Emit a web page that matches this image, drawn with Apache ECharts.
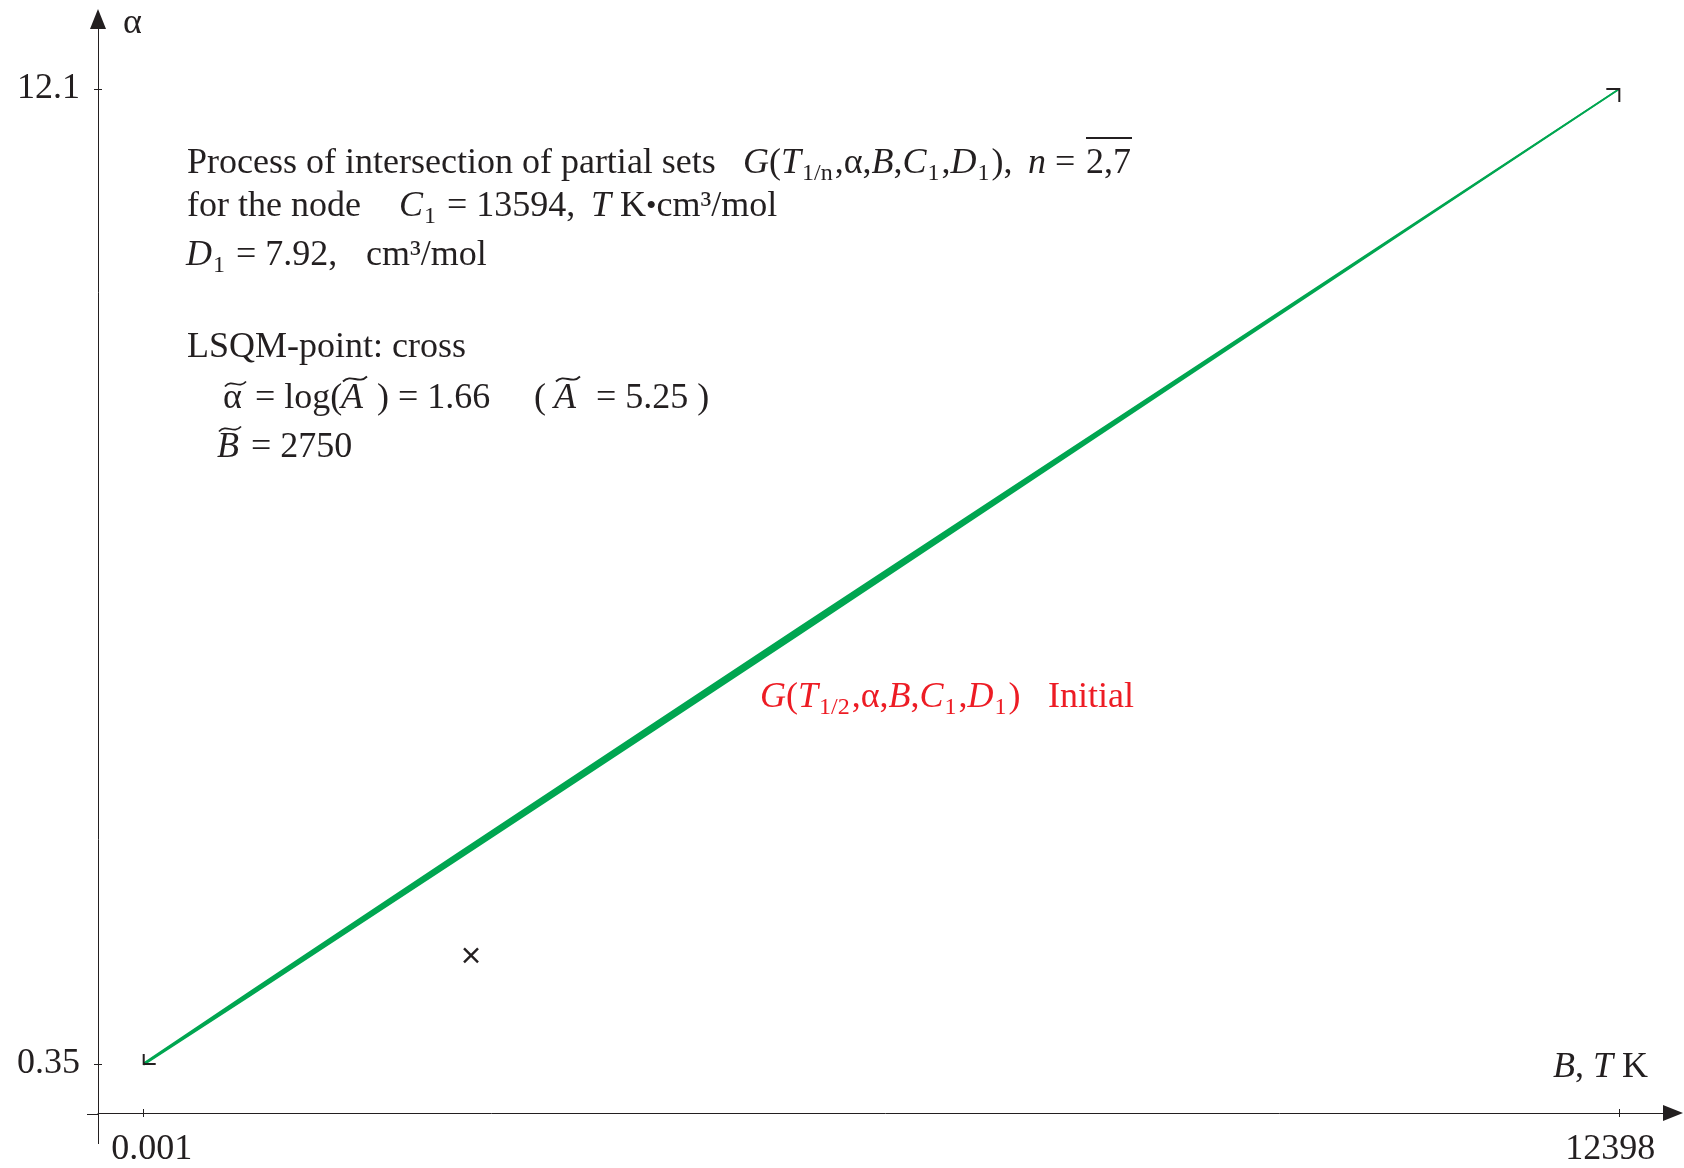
<!DOCTYPE html>
<html>
<head>
<meta charset="utf-8">
<title>Process of intersection of partial sets</title>
<script src="https://cdn.jsdelivr.net/npm/echarts@6/dist/echarts.min.js"></script>
<style>
  html, body { margin: 0; padding: 0; background: #ffffff; }
  #chart { width: 1684px; height: 1168px; }
</style>
</head>
<body>
<div id="chart"></div>
<script>
// ---- data -------------------------------------------------------------
// tick marks and their labels
const xTickValues = [0.001, 12398];
const xTickLabels = ['0.001', '12398'];
const yTickValues = [0.35, 12.1];
const yTickLabels = ['0.35', '12.1'];

// G(T1/n, alpha, B, C1, D1) family, n = 2..7: end points of the set
const lineB = [0.001, 12398];
const lineAlpha = [0.35, 12.1];

// spread of the overlapping curves along B (lower / upper alpha edge)
const bandB    = [0.001, 900,   2600,  4300,  5500,  7200,  8900,  10600,  12398];
const bandLow  = [0.329, 1.167, 2.766, 4.371, 5.508, 7.129, 8.752, 10.375, 12.088];
const bandHigh = [0.371, 1.239, 2.862, 4.479, 5.616, 7.219, 8.818, 10.417, 12.112];

// least-squares point (cross)
const lsqmB = 2750;
const lsqmAlpha = 1.66;

// ---- styles -----------------------------------------------------------
const SERIF = "'Liberation Serif', 'Times New Roman', serif";
const INK = '#231f20';
const GREEN = '#00a651';
const RED = '#ed1c24';
const FS = 36;

const rich = {
  i: { fontStyle: 'italic', fontSize: FS, fontFamily: SERIF, lineHeight: 44 },
  s: { fontSize: 24, fontFamily: SERIF, lineHeight: 18, verticalAlign: 'bottom', padding: [0, 2, 0, 1] },
  d: { fontSize: 30, fontFamily: SERIF, lineHeight: 44 }
};

function txt(x, y, text, color) {
  return {
    type: 'text', x: x, y: y, silent: true,
    style: {
      text: text, fill: color || INK, fontSize: FS, fontFamily: SERIF,
      lineHeight: 44, align: 'left', verticalAlign: 'middle', rich: rich
    }
  };
}
function tilde(x, y, w) {
  return {
    type: 'bezierCurve', silent: true,
    shape: { x1: x, y1: y + 2.5, cpx1: x + w * 0.35, cpy1: y - 6, cpx2: x + w * 0.65, cpy2: y + 6, x2: x + w, y2: y - 2.5 },
    style: { stroke: INK, lineWidth: 1.8, fill: null }
  };
}
function seg(x1, y1, x2, y2, lw) {
  return {
    type: 'line', silent: true,
    shape: { x1: x1, y1: y1, x2: x2, y2: y2 },
    style: { stroke: INK, lineWidth: lw || 1 }
  };
}

const graphics = [
  // axis names
  txt(123, 24, 'α'),
  txt(1553, 1068, '{i|B}, {i|T} K'),
  // axis overhang past the crossing
  seg(98.5, 1114, 98.5, 1144),
  seg(87, 1114.5, 98.5, 1114.5),

  // description block
  txt(187, 164, 'Process of intersection of partial sets'),
  txt(743, 164, '{i|G}({i|T}{s|1/n},α,{i|B},{i|C}{s|1},{i|D}{s|1}),'),
  txt(1028, 164, '{i|n} = '),
  txt(1086, 164, '2,7'),
  seg(1086, 138, 1132, 138, 2),
  txt(187, 207, 'for the node'),
  txt(399, 207, '{i|C}{s|1} = 13594,'),
  txt(591, 207, '{i|T} K{d|•}cm³/mol'),
  txt(186, 256, '{i|D}{s|1} = 7.92,'),
  txt(366, 256, 'cm³/mol'),

  txt(187, 348, 'LSQM-point: cross'),
  txt(223, 399, 'α'), tilde(225, 384, 21),
  txt(255, 399, '= log('),
  txt(341, 399, '{i|A}'), tilde(343, 379, 24),
  txt(377, 399, ') = 1.66'),
  txt(534, 399, '('),
  txt(554, 399, '{i|A}'), tilde(556, 379, 24),
  txt(596, 399, '= 5.25 )'),
  txt(217, 448, '{i|B}'), tilde(219, 429, 22),
  txt(251, 448, '= 2750'),

  // curve label
  txt(760, 697.5, '{i|G}({i|T}{s|1/2},α,{i|B},{i|C}{s|1},{i|D}{s|1})', RED),
  txt(1048, 697.5, 'Initial', RED)
];

// ---- axes -------------------------------------------------------------
const axisLineStyle = { color: INK, width: 1 };
const labelFont = { fontFamily: SERIF, fontSize: FS, color: INK };

function xLabel(v) {
  const i = xTickValues.indexOf(v);
  const s = i >= 0 ? xTickLabels[i] : '';
  return i === 0 ? '{a|' + s + '}' : '{b|' + s + '}';
}
function yLabel(v) {
  const i = yTickValues.indexOf(v);
  return i >= 0 ? yTickLabels[i] : '';
}

const X_MIN = -384, X_MAX = 12849;
const Y_MIN = -0.240, Y_MAX = 12.943;

const option = {
  animation: false,
  backgroundColor: '#ffffff',
  grid: { left: 98, right: 11, top: 19, bottom: 54, containLabel: false },
  xAxis: [
    {
      type: 'value', min: X_MIN, max: X_MAX, position: 'bottom',
      axisLine: { show: true, onZero: false, symbol: ['none', 'triangle'], symbolSize: [16, 20], lineStyle: axisLineStyle },
      axisTick: { show: true, customValues: xTickValues, length: 4, lineStyle: axisLineStyle },
      axisLabel: {
        show: true, customValues: xTickValues, formatter: xLabel, margin: 37, verticalAlign: 'middle',
        ...labelFont,
        rich: {
          a: { ...labelFont, padding: [0, 0, 0, 16] },
          b: { ...labelFont, padding: [0, 18, 0, 0] }
        }
      },
      splitLine: { show: false }
    },
    {
      type: 'value', min: X_MIN, max: X_MAX, position: 'bottom',
      axisLine: { show: false, onZero: false },
      axisTick: { show: true, inside: true, customValues: xTickValues, length: 4, lineStyle: axisLineStyle },
      axisLabel: { show: false },
      splitLine: { show: false }
    }
  ],
  yAxis: [
    {
      type: 'value', min: Y_MIN, max: Y_MAX, position: 'left',
      axisLine: { show: true, onZero: false, symbol: ['none', 'triangle'], symbolSize: [16, 20], lineStyle: axisLineStyle },
      axisTick: { show: true, customValues: yTickValues, length: 4, lineStyle: axisLineStyle },
      axisLabel: { show: true, customValues: yTickValues, formatter: yLabel, margin: 18, ...labelFont },
      splitLine: { show: false }
    },
    {
      type: 'value', min: Y_MIN, max: Y_MAX, position: 'left',
      axisLine: { show: false, onZero: false },
      axisTick: { show: true, inside: true, customValues: yTickValues, length: 4, lineStyle: axisLineStyle },
      axisLabel: { show: false },
      splitLine: { show: false }
    }
  ],
  graphic: graphics,
  series: [
    {
      // spread of the n = 2..7 curves
      type: 'custom', xAxisIndex: 0, yAxisIndex: 0, silent: true, clip: false,
      data: [[bandB[0], bandLow[0]]],
      renderItem: function (params, api) {
        const pts = [];
        for (let i = 0; i < bandB.length; i++) pts.push(api.coord([bandB[i], bandHigh[i]]));
        for (let i = bandB.length - 1; i >= 0; i--) pts.push(api.coord([bandB[i], bandLow[i]]));
        return { type: 'polygon', shape: { points: pts }, style: { fill: GREEN } };
      },
      z: 2
    },
    {
      type: 'line', xAxisIndex: 0, yAxisIndex: 0, silent: true,
      data: lineB.map((b, i) => [b, lineAlpha[i]]),
      symbol: 'none', lineStyle: { color: GREEN, width: 1.6 }, z: 3
    },
    {
      // corner marks at both ends of the set
      type: 'custom', xAxisIndex: 0, yAxisIndex: 0, silent: true, clip: false,
      data: lineB.map((b, i) => [b, lineAlpha[i], i]),
      renderItem: function (params, api) {
        const p = api.coord([api.value(0), api.value(1)]);
        const pts = api.value(2) === 0
          ? [[p[0], p[1] - 10], [p[0], p[1]], [p[0] + 12, p[1]]]
          : [[p[0] - 13, p[1]], [p[0], p[1]], [p[0], p[1] + 13]];
        return { type: 'polyline', shape: { points: pts }, style: { stroke: INK, lineWidth: 2, fill: null } };
      },
      z: 4
    },
    {
      // LSQM point
      type: 'custom', xAxisIndex: 0, yAxisIndex: 0, silent: true,
      data: [[lsqmB, lsqmAlpha]],
      renderItem: function (params, api) {
        const p = api.coord([api.value(0), api.value(1)]);
        const h = 7;
        return {
          type: 'group',
          children: [
            { type: 'line', shape: { x1: p[0] - h, y1: p[1] - h, x2: p[0] + h, y2: p[1] + h }, style: { stroke: INK, lineWidth: 2.4 } },
            { type: 'line', shape: { x1: p[0] - h, y1: p[1] + h, x2: p[0] + h, y2: p[1] - h }, style: { stroke: INK, lineWidth: 2.4 } }
          ]
        };
      },
      z: 4
    }
  ]
};

const chart = echarts.init(document.getElementById('chart'), null, { renderer: 'canvas' });
chart.setOption(option);
</script>
</body>
</html>
